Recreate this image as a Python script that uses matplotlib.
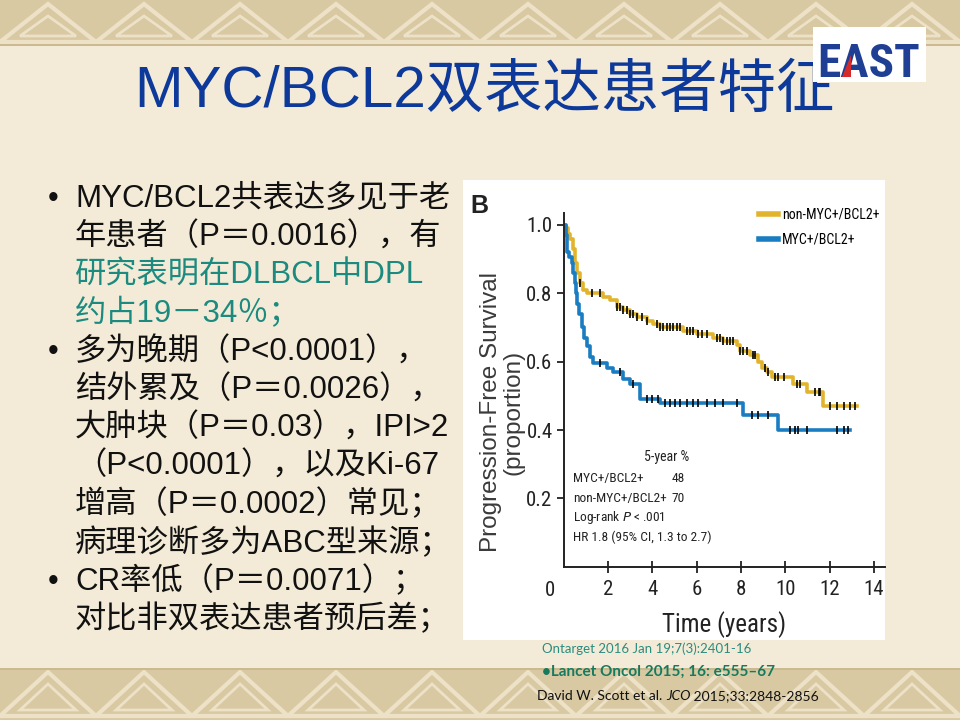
import numpy as np
import matplotlib
matplotlib.use("Agg")
import matplotlib.pyplot as plt
from matplotlib import font_manager as fm
from matplotlib.patches import Rectangle, Polygon

# ---- data ----
non_myc_time = [0, 0.10, 0.20, 0.29, 0.40, 0.51, 0.62, 0.74, 0.89, 1.04, 1.79, 2.09, 2.39, 2.69,
                2.99, 3.30, 3.75, 4.05, 4.35, 5.40, 6.00, 6.76, 7.21, 7.81, 7.96, 8.41, 8.79,
                8.94, 9.16, 9.39, 10.37, 10.97, 11.72, 13.23]
non_myc_surv = [1.0, 0.99, 0.975, 0.96, 0.93, 0.89, 0.86, 0.83, 0.81, 0.80, 0.79, 0.78, 0.76, 0.75,
                0.74, 0.73, 0.72, 0.71, 0.70, 0.69, 0.68, 0.67, 0.66, 0.65, 0.63, 0.62, 0.60,
                0.58, 0.57, 0.555, 0.535, 0.51, 0.47, 0.47]
non_myc_censor = [0.74, 1.26, 1.64, 2.39, 2.54, 2.69, 2.84, 2.99, 3.15, 3.30, 3.52, 3.75, 4.20,
                  4.35, 4.50, 4.65, 4.80, 4.95, 5.10, 5.25, 5.55, 5.70, 5.85, 6.08, 6.23, 6.46,
                  6.91, 7.06, 7.21, 7.36, 7.51, 7.66, 7.96, 8.11, 8.26, 8.56, 8.64, 9.09, 9.24,
                  9.54, 9.69, 9.92, 10.52, 10.67, 11.35, 11.50, 11.57, 12.02, 12.33, 12.63,
                  12.93, 13.15]

myc_time = [0, 0.11, 0.17, 0.26, 0.36, 0.44, 0.51, 0.56, 0.62, 0.71, 0.81, 0.92, 1.04, 1.19,
            1.34, 1.94, 2.24, 2.69, 2.99, 3.45, 4.35, 8.11, 9.69, 12.93]
myc_surv = [1.0, 0.97, 0.92, 0.905, 0.89, 0.86, 0.83, 0.80, 0.77, 0.74, 0.70, 0.67, 0.645, 0.615,
            0.595, 0.58, 0.57, 0.55, 0.535, 0.49, 0.48, 0.445, 0.40, 0.40]
myc_censor = [1.64, 2.54, 3.15, 3.75, 3.97, 4.27, 4.57, 4.80, 5.03, 5.25, 5.55, 5.85, 6.08, 6.46,
              6.83, 7.21, 7.81, 8.49, 8.79, 9.24, 10.22, 10.44, 10.59, 10.97, 12.33, 12.63, 12.85]

x_ticks = [2, 4, 6, 8, 10, 12, 14]
y_ticks = [0.2, 0.4, 0.6, 0.8, 1.0]

summary_rows = [("MYC+/BCL2+", "48"), ("non-MYC+/BCL2+", "70")]

title = "MYC/BCL2双表达患者特征"
body_lines = [
    ("MYC/BCL2共表达多见于老", "#111111", True),
    ("年患者（P＝0.0016），有", "#111111", False),
    ("研究表明在DLBCL中DPL", "#1C8A7E", False),
    ("约占19－34％；", "#1C8A7E", False),
    ("多为晚期（P<0.0001），", "#111111", True),
    ("结外累及（P＝0.0026），", "#111111", False),
    ("大肿块（P＝0.03），IPI>2", "#111111", False),
    ("（P<0.0001），以及Ki-67", "#111111", False),
    ("增高（P＝0.0002）常见；", "#111111", False),
    ("病理诊断多为ABC型来源；", "#111111", False),
    ("CR率低（P＝0.0071）；", "#111111", True),
    ("对比非双表达患者预后差；", "#111111", False),
]

CJK = ["Liberation Sans", "Noto Sans CJK SC", "DejaVu Sans"]

# look for a condensed face for the figure panel (original uses Helvetica Condensed)
narrow = None
for pref in ["Roboto Condensed", "Liberation Sans Narrow", "DejaVu Sans", "Open Sans", "Noto Sans"]:
    for f in fm.fontManager.ttflist:
        if f.name == pref and f.style == "normal" and (f.stretch in ("condensed", "semi-condensed")
                                                      or "Narrow" in f.name or "Condensed" in f.name):
            narrow = f
            break
    if narrow:
        break
if narrow:
    NK = dict(family=narrow.name, fontstretch=narrow.stretch)
    SC = 1.0
else:
    NK = dict(family="Liberation Sans")
    SC = 0.84

YELLOW = "#E2B42C"
BLUE = "#1A7CC1"

fig = plt.figure(figsize=(9.6, 7.2), dpi=100)
fig.patch.set_facecolor("#F3EBD7")

# background layer in pixel coordinates
bg = fig.add_axes([0, 0, 1, 1])
bg.set_xlim(0, 960)
bg.set_ylim(720, 0)
bg.axis("off")

# decorative bands top and bottom
for y0, y1 in [(0, 46), (668, 720)]:
    bg.add_patch(Rectangle((0, y0), 960, y1 - y0, facecolor="#D9C9A3", edgecolor="none"))
    step = 96
    for x0 in range(-96, 1056, step):
        bg.add_patch(Polygon([(x0, y1 - 4), (x0 + step / 2, y0 + 4), (x0 + step, y1 - 4)],
                             closed=True, facecolor="none", edgecolor="#EDE2C7", lw=3))
        bg.add_patch(Polygon([(x0 + 20, y1 - 10), (x0 + step / 2, y0 + 16), (x0 + step - 20, y1 - 10)],
                             closed=True, facecolor="none", edgecolor="#EDE2C7", lw=2))
    bg.add_patch(Rectangle((0, y1 - 2 if y0 == 0 else y0), 960, 2, facecolor="#CBB98F", edgecolor="none"))

# title
bg.text(484, 107, title, fontsize=42, color="#0D3A9A", family=CJK, ha="center", va="baseline")

# logo (sits over the end of the title, as in the slide)
bg.add_patch(Rectangle((813, 27), 113, 55, facecolor="white", edgecolor="none", zorder=5))
bg.text(869, 77, "EAST", fontsize=34 * SC, fontweight="bold", color="#1F3F94",
        ha="center", va="baseline", zorder=6, **NK)
bg.add_patch(Polygon([(842, 77), (851, 55), (851, 77)], closed=True, facecolor="#D62A2A",
                     edgecolor="none", zorder=7))

# bullet text
for i, (line, col, bullet) in enumerate(body_lines):
    yb = 207 + i * 38.3
    if bullet:
        bg.text(48, yb, "•", fontsize=22, color="#111111", family=CJK, va="baseline")
    bg.text(75, yb, line, fontsize=22.5, color=col, family=CJK, va="baseline")

# white panel of the figure
bg.add_patch(Rectangle((463, 180), 422, 460, facecolor="white", edgecolor="none"))
bg.text(470, 213, "B", fontsize=18, fontweight="bold", color="#222222", family="Liberation Sans",
        va="baseline")

# citations
bg.text(542, 653, "Ontarget 2016 Jan 19;7(3):2401-16", fontsize=9.5, color="#2A8C7F",
        family="Lato", va="baseline")
bg.text(542, 676, "•Lancet Oncol 2015; 16: e555–67", fontsize=11, fontweight="bold",
        color="#167A5E", family="Lato", va="baseline")
c1 = bg.text(537, 700, "David W. Scott et al. ", fontsize=10, color="#111111", family="Lato",
             va="baseline")
c2 = bg.annotate("JCO", xy=(1, 0), xycoords=c1, fontsize=10, color="#111111", family="Lato",
                 style="italic", va="bottom")
bg.annotate(" 2015;33:2848-2856", xy=(1, 0), xycoords=c2, fontsize=10, color="#111111",
            family="Lato", va="bottom")

# ---- Kaplan-Meier axes ----
ax = fig.add_axes([563.7 / 960, 1 - 566.7 / 720, (885 - 563.7) / 960, (566.7 - 213) / 720])
ax.set_facecolor("none")
ax.set_xlim(0, 14.5)
ax.set_ylim(0, 1.035)

ax.step(non_myc_time, non_myc_surv, where="post", color=YELLOW, lw=2.6, label="non-MYC+/BCL2+")
ax.step(myc_time, myc_surv, where="post", color=BLUE, lw=2.6, label="MYC+/BCL2+")

for t, s, cens in [(non_myc_time, non_myc_surv, non_myc_censor), (myc_time, myc_surv, myc_censor)]:
    idx = np.searchsorted(t, cens, side="right") - 1
    ax.plot(cens, np.array(s)[idx], ls="none", marker="|", ms=6, mew=1.2, color="black")

for side in ["top", "right"]:
    ax.spines[side].set_visible(False)
for side in ["left", "bottom"]:
    ax.spines[side].set_linewidth(1.4)
    ax.spines[side].set_color("#222222")

ax.set_xticks(x_ticks)
ax.set_yticks(y_ticks)
ax.set_yticklabels([f"{v:.1f}" for v in y_ticks])
ax.tick_params(axis="x", direction="inout", length=9, width=1.3, pad=5, labelsize=15 * SC,
               colors="#222222")
ax.tick_params(axis="y", direction="out", length=5, width=1.3, pad=3, labelsize=15 * SC,
               colors="#222222")
for lab in ax.get_xticklabels() + ax.get_yticklabels():
    lab.set_family(NK["family"])
    if "fontstretch" in NK:
        lab.set_fontstretch(NK["fontstretch"])
ax.annotate("0", xy=(0, 0), xytext=(-10, -10), textcoords="offset points", fontsize=15 * SC,
            color="#222222", ha="center", va="top", annotation_clip=False, **NK)

ax.set_xlabel("Time (years)", fontsize=18 * SC, color="#222222", labelpad=9, **NK)
fig.text(502 / 960, 1 - 412 / 720, "Progression-Free Survival\n(proportion)", rotation=90,
         fontsize=17.5, family="Liberation Sans", color="#3A3A3A", ha="center", va="center",
         multialignment="center", linespacing=1.0)

leg = ax.legend(loc="upper right", bbox_to_anchor=(1.0, 1.03), frameon=False, fontsize=10 * SC,
                handlelength=1.4, handletextpad=0.25, labelspacing=0.75, borderaxespad=0)
for txt in leg.get_texts():
    txt.set_family(NK["family"])
    if "fontstretch" in NK:
        txt.set_fontstretch(NK["fontstretch"])
for h in leg.get_lines():
    h.set_linewidth(4)

fs_note = 9.6 * SC
ax.text(0.32, 0.31, "5-year %", transform=ax.transAxes, fontsize=10 * SC, color="#222222",
        ha="center", va="center", **NK)
for j, (name, pct) in enumerate(summary_rows):
    yy = 0.248 - j * 0.054
    ax.text(0.029, yy, name, transform=ax.transAxes, fontsize=fs_note, color="#222222",
            va="center", **NK)
    ax.text(0.335, yy, pct, transform=ax.transAxes, fontsize=fs_note, color="#222222",
            va="center", **NK)
ax.text(0.029, 0.138, "Log-rank $\\it{P}$ < .001", transform=ax.transAxes, fontsize=fs_note,
        color="#222222", va="center", **NK)
ax.text(0.029, 0.082, "HR 1.8 (95% CI, 1.3 to 2.7)", transform=ax.transAxes, fontsize=fs_note,
        color="#222222", va="center", **NK)

fig.savefig("out.png", dpi=100, facecolor=fig.get_facecolor())
